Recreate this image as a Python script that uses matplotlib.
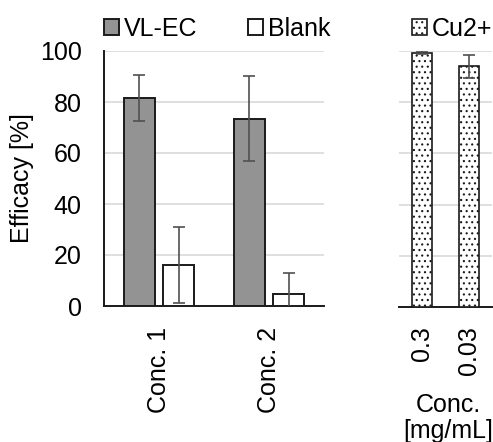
import numpy as np
import matplotlib
matplotlib.use('Agg')
import matplotlib.pyplot as plt

plt.rcParams['font.family'] = ['Liberation Sans', 'DejaVu Sans']
plt.rcParams['font.size'] = 18
plt.rcParams['hatch.linewidth'] = 0.8
plt.rcParams['hatch.color'] = '#222222'

# left panel data
conc_labels = ['Conc. 1', 'Conc. 2']
vlec_vals = [81.7, 73.5]
vlec_err = [9.0, 16.5]
blank_vals = [16.0, 4.6]
blank_err = [15.0, 8.5]

# right panel data
cu_labels = ['0.3', '0.03']
cu_vals = [99.4, 94.0]
cu_err = [0.6, 4.5]

W, H = 493, 442
fig = plt.figure(figsize=(W / 100, H / 100), dpi=100)
ax = fig.add_axes([104 / W, (H - 306) / H, 220 / W, 255 / H])
ax2 = fig.add_axes([399 / W, (H - 307) / H, 93 / W, 256 / H])

err_kw = dict(ecolor='#505050', elinewidth=1.2, capsize=4, capthick=1.2)

x = np.arange(len(conc_labels))
ax.bar(x - 0.18, vlec_vals, 0.28, yerr=vlec_err, color='#939393',
       edgecolor='#1a1a1a', linewidth=1.4, label='VL-EC', error_kw=err_kw, zorder=3)
ax.bar(x + 0.18, blank_vals, 0.28, yerr=blank_err, color='white',
       edgecolor='#1a1a1a', linewidth=1.4, label='Blank', error_kw=err_kw, zorder=3)

x2 = np.arange(len(cu_labels))
ax2.bar(x2, cu_vals, 0.44, yerr=cu_err, color='white', edgecolor='#1a1a1a',
        linewidth=1.2, hatch='...', label='Cu2+', error_kw=err_kw, zorder=3)

for a in (ax, ax2):
    a.set_xlim(-0.5, 1.5)
    a.set_ylim(0, 100)
    a.set_yticks([0, 20, 40, 60, 80, 100])
    a.grid(axis='y', color='#d9d9d9', linewidth=1.2, zorder=0)
    a.set_axisbelow(True)
    for s in ('top', 'right'):
        a.spines[s].set_visible(False)
    a.spines['bottom'].set_color('#1a1a1a')
    a.spines['bottom'].set_linewidth(1.4)
    a.tick_params(axis='both', length=0)

ax.spines['left'].set_color('#1a1a1a')
ax.spines['left'].set_linewidth(1.4)
ax.set_xticks(x)
ax.set_xticklabels(conc_labels, rotation=90)
ax.tick_params(axis='x', pad=15)
ax.tick_params(axis='y', pad=16)
ax.set_ylabel('Efficacy [%]')
ax.yaxis.set_label_coords(-0.32, 0.5)

ax2.spines['left'].set_visible(False)
ax2.set_yticklabels([])
ax2.set_xticks(x2)
ax2.set_xticklabels(cu_labels, rotation=90)
ax2.tick_params(axis='x', pad=14)
ax2.set_xlabel('Conc.\n[mg/mL]', linespacing=1.1)
ax2.xaxis.set_label_coords(0.53, -0.335)

ax.legend(loc='lower left', bbox_to_anchor=(-0.045, 1.0), ncol=2, frameon=False,
          handlelength=0.6, handleheight=0.6, handletextpad=0.2,
          columnspacing=2.0, borderaxespad=0.3, borderpad=0.1)
ax2.legend(loc='lower left', bbox_to_anchor=(0.03, 1.0), frameon=False,
           handlelength=0.6, handleheight=0.6, handletextpad=0.2,
           borderaxespad=0.3, borderpad=0.1)

fig.savefig('out.png', dpi=100)
